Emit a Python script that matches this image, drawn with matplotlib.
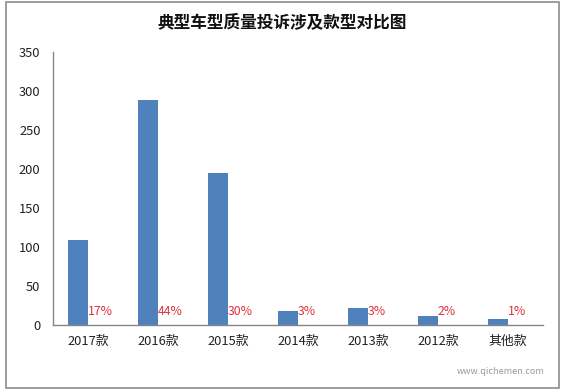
import matplotlib
matplotlib.use("Agg")
import matplotlib.pyplot as plt
from matplotlib.patches import Rectangle
import numpy as np

plt.rcParams['font.family'] = ['Noto Sans CJK SC', 'DejaVu Sans']

categories = ["2017款", "2016款", "2015款", "2014款", "2013款", "2012款", "其他款"]
counts = [109, 288, 195, 18, 22, 11, 8]
shares = ["17%", "44%", "30%", "3%", "3%", "2%", "1%"]
title = "典型车型质量投诉涉及款型对比图"
yticks = [0, 50, 100, 150, 200, 250, 300, 350]

fig = plt.figure(figsize=(5.65, 3.92), dpi=100)
ax = fig.add_axes([53/565, 67/392, 490/565, 273/392])

x = np.arange(len(categories))
w = 0.286
ax.bar(x - w/2, counts, width=w, color='#4F81BD')
for xi, s in zip(x, shares):
    ax.annotate(s, (xi, 0), xytext=(0, 9.5), textcoords='offset points',
                ha='left', va='center', color='#E0303C', fontsize=8.8)

ax.set_xlim(-0.5, len(categories) - 0.5)
ax.set_ylim(0, 350)
ax.set_yticks(yticks)
ax.set_xticks(x)
ax.set_xticklabels(categories)
ax.tick_params(axis='both', length=0, labelsize=9.3, colors='#222222')
ax.tick_params(axis='y', pad=9)
ax.tick_params(axis='x', pad=7)
for side in ['top', 'right']:
    ax.spines[side].set_visible(False)
for side in ['left', 'bottom']:
    ax.spines[side].set_color('#868686')
    ax.spines[side].set_linewidth(1)

fig.text(282/565, 1 - 23/392, title, ha='center', va='center',
         fontsize=12, fontweight='bold', color='#111111')
fig.text(545/565, 1 - 372/392, "www.qichemen.com", ha='right', va='center',
         fontsize=6.5, color='#9a9a9a')

fig.patches.append(Rectangle((6/565, 4/392), 553/565, 386/392,
                             transform=fig.transFigure, fill=False,
                             edgecolor='#8c8c8c', linewidth=1.2))

fig.savefig('out.png', dpi=100)
